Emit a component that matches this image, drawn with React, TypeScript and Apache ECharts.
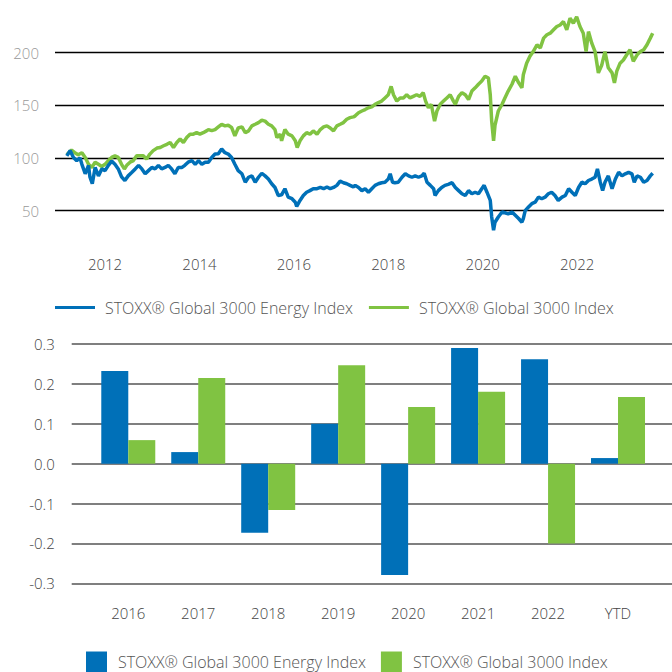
import React, { useEffect, useRef } from 'react';
import * as echarts from 'echarts';

const ENERGY = 'STOXX® Global 3000 Energy Index';
const GLOBAL = 'STOXX® Global 3000 Index';

// [decimal year, index level]
const energyLine: [number, number][] = [
  [2011.19, 102], [2011.26, 107], [2011.33, 100.5], [2011.40, 97.5], [2011.47, 100], [2011.51, 94], [2011.58, 85],
  [2011.65, 93], [2011.68, 82], [2011.73, 75.5], [2011.79, 91], [2011.86, 83], [2011.93, 89.6], [2012.00, 88],
  [2012.07, 93], [2012.14, 97], [2012.21, 94], [2012.28, 89.6], [2012.35, 82], [2012.42, 78.6], [2012.49, 83],
  [2012.57, 86.4], [2012.64, 89.6], [2012.71, 93], [2012.78, 89.6], [2012.85, 85], [2012.92, 88], [2012.99, 91],
  [2013.06, 89.6], [2013.13, 93], [2013.20, 89.6], [2013.27, 91], [2013.34, 93], [2013.41, 89.6], [2013.48, 85],
  [2013.55, 91], [2013.63, 91], [2013.69, 93], [2013.76, 96], [2013.84, 97.5], [2013.91, 94], [2013.98, 97.5],
  [2014.05, 94], [2014.12, 96], [2014.19, 96], [2014.26, 100.5], [2014.33, 103.7], [2014.40, 104], [2014.47, 108.5],
  [2014.54, 105], [2014.61, 103.7], [2014.68, 100.5], [2014.75, 94], [2014.82, 88], [2014.90, 85], [2014.97, 77],
  [2015.04, 81.7], [2015.11, 83], [2015.18, 77], [2015.25, 81.7], [2015.32, 85.5], [2015.39, 83], [2015.46, 80],
  [2015.53, 75.5], [2015.60, 72], [2015.67, 64.4], [2015.74, 65], [2015.81, 70.8], [2015.88, 62.8], [2015.96, 61.3],
  [2016.03, 58], [2016.06, 54], [2016.13, 59.7], [2016.20, 64.4], [2016.27, 67.5], [2016.34, 69], [2016.41, 70.8],
  [2016.49, 70.8], [2016.56, 72], [2016.63, 70.8], [2016.70, 72.5], [2016.77, 70.8], [2016.84, 72], [2016.91, 74],
  [2016.98, 78], [2017.05, 76.5], [2017.12, 75.5], [2017.19, 74], [2017.26, 72.5], [2017.30, 74], [2017.37, 72],
  [2017.44, 69], [2017.51, 70.8], [2017.58, 67.5], [2017.65, 70.8], [2017.72, 74], [2017.79, 75.5], [2017.86, 76.5],
  [2017.93, 77], [2018.00, 80], [2018.04, 85], [2018.09, 77], [2018.14, 76.5], [2018.21, 77], [2018.29, 81.7],
  [2018.36, 85], [2018.43, 83], [2018.50, 81.7], [2018.57, 83], [2018.64, 81.7], [2018.71, 83], [2018.76, 85.5],
  [2018.82, 77], [2018.89, 74], [2018.96, 70.8], [2018.99, 64.4], [2019.06, 69], [2019.13, 72], [2019.20, 74],
  [2019.27, 75], [2019.35, 76.5], [2019.42, 72], [2019.49, 69], [2019.56, 66], [2019.63, 64.4], [2019.70, 69],
  [2019.77, 66], [2019.84, 67.5], [2019.91, 66], [2019.98, 70.8], [2020.03, 74], [2020.09, 67.5], [2020.16, 59.7],
  [2020.19, 44], [2020.23, 31.4], [2020.26, 39], [2020.33, 44], [2020.41, 48.7], [2020.47, 48], [2020.54, 47],
  [2020.62, 48.7], [2020.69, 45.6], [2020.76, 42.5], [2020.83, 39], [2020.86, 42.5], [2020.90, 50], [2020.97, 53.4],
  [2021.04, 56.6], [2021.11, 58], [2021.18, 62.8], [2021.25, 61.3], [2021.32, 62.8], [2021.39, 66], [2021.46, 67.5],
  [2021.53, 64.4], [2021.60, 59.7], [2021.68, 62.8], [2021.75, 64.4], [2021.82, 70.8], [2021.89, 67.5], [2021.96, 64.4],
  [2022.03, 72], [2022.10, 77], [2022.17, 75.5], [2022.24, 78.6], [2022.31, 80], [2022.38, 81.7], [2022.43, 89.6],
  [2022.49, 77], [2022.54, 69], [2022.59, 77], [2022.66, 83], [2022.74, 70.8], [2022.81, 80], [2022.88, 86.4],
  [2022.95, 83], [2023.02, 85], [2023.09, 86.4], [2023.16, 85], [2023.21, 77], [2023.27, 83], [2023.34, 81.7],
  [2023.41, 77], [2023.48, 78.6], [2023.55, 83], [2023.60, 85.5],
];

const globalLine: [number, number][] = [
  [2011.19, 103], [2011.29, 107.5], [2011.36, 105], [2011.43, 103], [2011.51, 105], [2011.58, 100.5], [2011.65, 94],
  [2011.72, 91], [2011.79, 96], [2011.86, 94], [2011.93, 92], [2012.00, 94], [2012.07, 97.5], [2012.14, 100.5],
  [2012.21, 102], [2012.28, 100.5], [2012.35, 94], [2012.41, 89.6], [2012.46, 93], [2012.53, 96], [2012.60, 97.5],
  [2012.67, 102], [2012.74, 102], [2012.81, 102], [2012.88, 99], [2012.95, 103.7], [2013.02, 107], [2013.10, 109.4],
  [2013.17, 110], [2013.24, 111.6], [2013.31, 113], [2013.38, 114.7], [2013.45, 110], [2013.52, 114.7], [2013.59, 118],
  [2013.66, 114.7], [2013.73, 119.4], [2013.80, 122.6], [2013.87, 122.6], [2013.94, 124], [2014.01, 122.6],
  [2014.08, 124], [2014.15, 125.7], [2014.19, 127], [2014.26, 126], [2014.33, 127], [2014.40, 129.5], [2014.47, 132],
  [2014.54, 130.5], [2014.61, 131], [2014.68, 129], [2014.75, 121], [2014.82, 128.5], [2014.90, 129.5], [2014.97, 124],
  [2015.04, 125.7], [2015.11, 130.5], [2015.18, 132], [2015.25, 133.6], [2015.32, 135.8], [2015.39, 135], [2015.46, 132],
  [2015.53, 130.5], [2015.60, 127], [2015.64, 119.4], [2015.71, 122.6], [2015.74, 116.3], [2015.81, 127],
  [2015.88, 122.6], [2015.96, 121], [2016.03, 116.3], [2016.07, 110], [2016.13, 116.3], [2016.20, 121], [2016.27, 124],
  [2016.34, 122.6], [2016.41, 125.7], [2016.49, 122.6], [2016.56, 127], [2016.63, 129.5], [2016.70, 130.5],
  [2016.77, 128.5], [2016.84, 125.7], [2016.91, 130.5], [2016.98, 132], [2017.05, 133.6], [2017.12, 136.8],
  [2017.19, 138.3], [2017.26, 139], [2017.30, 140], [2017.37, 143], [2017.44, 144.6], [2017.51, 146], [2017.58, 147.7],
  [2017.65, 148.5], [2017.72, 151], [2017.79, 152.6], [2017.86, 154], [2017.93, 157], [2018.00, 160], [2018.06, 168],
  [2018.11, 160], [2018.18, 154], [2018.25, 157], [2018.32, 157], [2018.39, 160], [2018.46, 157], [2018.53, 158.5],
  [2018.60, 160], [2018.67, 158.5], [2018.74, 162], [2018.79, 154], [2018.85, 147.7], [2018.91, 151], [2018.98, 135],
  [2019.03, 144.6], [2019.10, 151], [2019.17, 154], [2019.24, 157], [2019.31, 160], [2019.38, 154], [2019.42, 151],
  [2019.49, 158.5], [2019.56, 162], [2019.63, 160], [2019.70, 155.5], [2019.77, 163.5], [2019.84, 166.6], [2019.91, 170],
  [2019.98, 173], [2020.05, 177.6], [2020.12, 176], [2020.16, 160], [2020.19, 135], [2020.23, 116.3], [2020.26, 131],
  [2020.33, 144.6], [2020.41, 151], [2020.47, 157], [2020.54, 163.5], [2020.62, 170], [2020.69, 177.6], [2020.76, 171.5],
  [2020.83, 166.6], [2020.86, 179], [2020.93, 190], [2021.00, 196.5], [2021.07, 201], [2021.15, 207.5], [2021.22, 204.5],
  [2021.29, 213.8], [2021.36, 217], [2021.43, 218.5], [2021.50, 221.7], [2021.57, 224.8], [2021.64, 226.3],
  [2021.71, 229.5], [2021.78, 221.7], [2021.85, 232.6], [2021.92, 228], [2021.99, 234], [2022.06, 224.8],
  [2022.13, 218.5], [2022.19, 201], [2022.24, 220], [2022.31, 209], [2022.38, 201], [2022.45, 180.8], [2022.52, 188],
  [2022.59, 201], [2022.66, 185.6], [2022.74, 180.8], [2022.79, 171.3], [2022.84, 182.5], [2022.91, 190], [2022.98, 193],
  [2023.05, 198], [2023.12, 202.7], [2023.19, 191.8], [2023.27, 198], [2023.34, 201], [2023.41, 202.7], [2023.48, 207.5],
  [2023.55, 213.8], [2023.60, 218.5],
];

const yearTicks = [2012, 2014, 2016, 2018, 2020, 2022];
const levelTicks = [0, 50, 100, 150, 200, 250];

const barCategories = ['2016', '2017', '2018', '2019', '2020', '2021', '2022', 'YTD'];
const energyReturns = [0.232, 0.029, -0.173, 0.1, -0.279, 0.29, 0.262, 0.014];
const globalReturns = [0.059, 0.215, -0.116, 0.247, 0.142, 0.18, -0.2, 0.167];

const FONT = "'Open Sans', sans-serif";
const BLUE = '#0070b8';
const GREEN = '#80c342';

export default function App() {
  const ref = useRef<HTMLDivElement>(null);

  useEffect(() => {
    if (!ref.current) return;
    const chart = echarts.init(ref.current, null, { renderer: 'svg' });
    const axisText = { fontFamily: FONT, fontSize: 15, fontWeight: 300 };
    const legendText = { fontFamily: FONT, fontSize: 16, fontWeight: 300, color: '#555' };

    chart.setOption({
      animation: false,
      grid: [
        { left: 55, top: -1.2, width: 609, height: 264.5 },
        { left: 71.7, top: 344, width: 600.3, height: 239.3 },
        { left: 93.3, top: 344, width: 559.7, height: 239.3 },
      ],
      legend: [
        {
          left: 55,
          top: 299.5,
          padding: 0,
          icon: 'rect',
          itemWidth: 40,
          itemHeight: 3,
          itemGap: 16,
          itemStyle: { borderWidth: 0 },
          textStyle: { ...legendText, padding: [0, 0, 0, 5] },
          data: [ENERGY, GLOBAL],
        },
        {
          left: 86,
          top: 651.5,
          padding: 0,
          icon: 'rect',
          itemWidth: 21,
          itemHeight: 21,
          itemGap: 15,
          itemStyle: { borderWidth: 0 },
          textStyle: { ...legendText, padding: [0, 0, 0, 6] },
          data: [ENERGY, GLOBAL],
        },
      ],
      xAxis: [
        {
          gridIndex: 0,
          type: 'value',
          min: 2010.94,
          max: 2023.84,
          axisLine: { show: false },
          axisTick: { show: false },
          splitLine: { show: false },
          axisLabel: {
            ...axisText,
            color: '#444',
            margin: -7,
            customValues: yearTicks,
            formatter: (v: number) => String(Math.round(v)),
          },
        },
        { gridIndex: 1, type: 'value', min: 0, max: 1, show: false },
        {
          gridIndex: 2,
          type: 'category',
          data: barCategories,
          axisLine: { show: false },
          axisTick: { show: false },
          axisLabel: { ...axisText, color: '#444', margin: 22 },
        },
      ],
      yAxis: [
        {
          gridIndex: 0,
          type: 'value',
          min: levelTicks[0],
          max: levelTicks[levelTicks.length - 1],
          interval: 50,
          axisLine: { show: false },
          axisTick: { show: false },
          axisLabel: {
            ...axisText,
            color: '#999',
            margin: 16,
            showMinLabel: false,
            showMaxLabel: false,
          },
          splitLine: {
            show: true,
            showMinLine: false,
            showMaxLine: false,
            lineStyle: { color: '#000', width: 1.3 },
          },
        },
        {
          gridIndex: 1,
          type: 'value',
          min: -0.3,
          max: 0.3,
          interval: 0.1,
          axisLine: { show: false },
          axisTick: { show: false },
          axisLabel: {
            ...axisText,
            color: '#444',
            margin: 17,
            formatter: (v: number) => (Math.abs(v) < 1e-9 ? 0 : v).toFixed(1),
          },
          splitLine: { show: true, lineStyle: { color: '#555', width: 1.5 } },
        },
        { gridIndex: 2, type: 'value', min: -0.3, max: 0.3, interval: 0.1, show: false },
      ],
      series: [
        {
          name: GLOBAL,
          type: 'line',
          xAxisIndex: 0,
          yAxisIndex: 0,
          data: globalLine,
          showSymbol: false,
          color: GREEN,
          lineStyle: { width: 3.5, color: GREEN },
          z: 2,
        },
        {
          name: ENERGY,
          type: 'line',
          xAxisIndex: 0,
          yAxisIndex: 0,
          data: energyLine,
          showSymbol: false,
          color: BLUE,
          lineStyle: { width: 3.5, color: BLUE },
          z: 3,
        },
        {
          name: ENERGY,
          type: 'bar',
          xAxisIndex: 2,
          yAxisIndex: 2,
          data: energyReturns,
          color: BLUE,
          barWidth: 27,
          barGap: '0%',
          z: 3,
        },
        {
          name: GLOBAL,
          type: 'bar',
          xAxisIndex: 2,
          yAxisIndex: 2,
          data: globalReturns,
          color: GREEN,
          barWidth: 27,
          barGap: '0%',
          z: 3,
        },
      ],
    });

    return () => chart.dispose();
  }, []);

  return <div ref={ref} style={{ width: 672, height: 672, position: 'absolute', left: 0, top: 0 }} />;
}
